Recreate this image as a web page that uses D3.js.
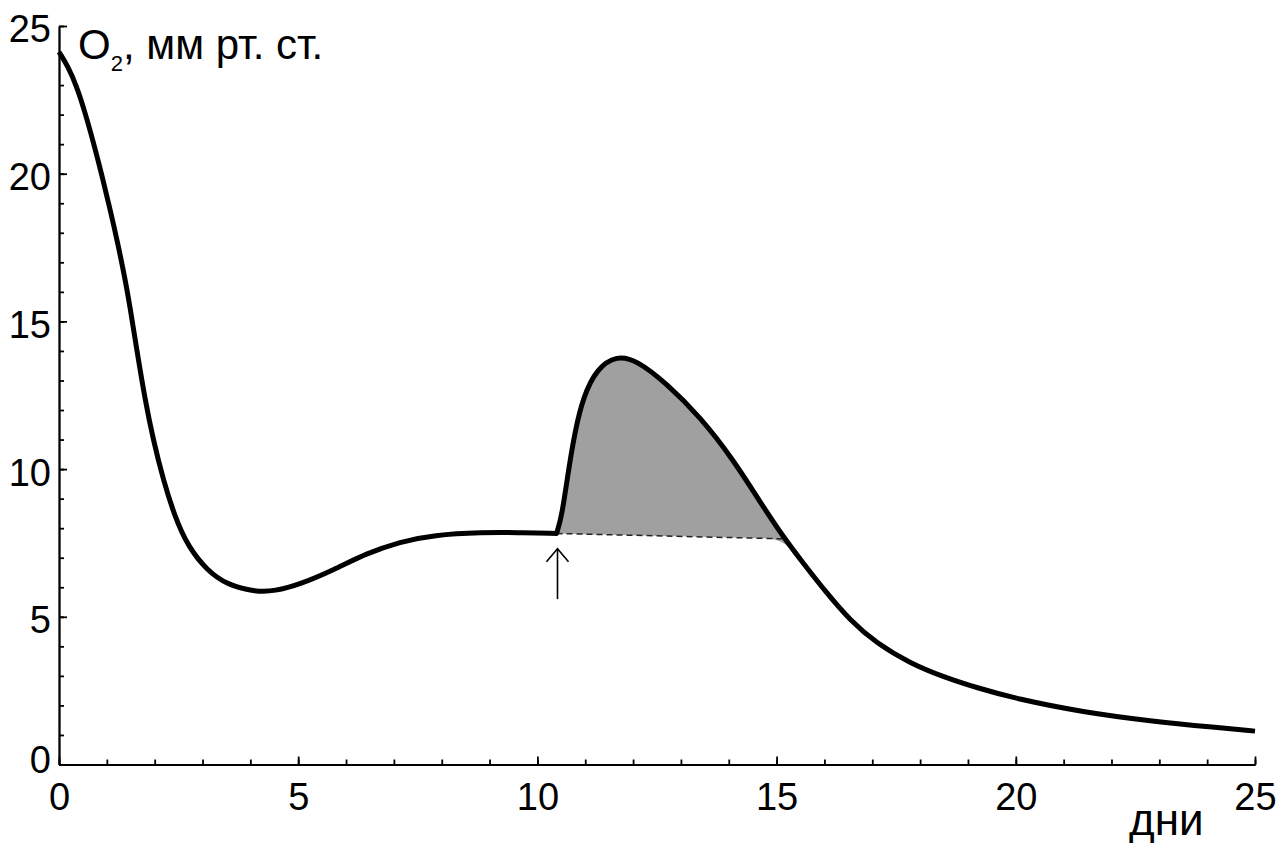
<html>
  <head>
    <title>O2</title>
    <meta charset="utf-8">
    <script src="https://d3js.org/d3.v7.min.js"></script>
    <style>
      body {
        margin: 0;
        background-color: #fff;
      }
      svg text {
        font-family: "Liberation Sans", Arial, sans-serif;
        fill: #000;
      }
    </style>
  </head>

  <body>
    <svg width="1279" height="843"></svg>

    <script>
      // values: day, O2 (mm Hg)
      var days = [0, 0.19, 0.37, 0.54, 0.72, 0.89, 1.07, 1.24, 1.38, 1.48, 1.62, 1.8, 1.97, 2.18,
        2.42, 2.7, 3.09, 3.51, 4.13, 4.5, 5.04, 5.73, 6.43, 7.13, 7.82, 8.87, 9.57, 10.4,
        10.51, 10.65, 10.79, 10.96, 11.24, 11.66, 12.08, 12.7, 13.4, 14.1, 14.65, 15.14,
        15.56, 16.05, 16.53, 17.09, 17.79, 18.48, 19.18, 20.02, 21.41, 22.81, 24.2, 25];
      var o2 = [24.12, 23.63, 22.95, 22.1, 21.06, 19.99, 18.78, 17.56, 16.44, 15.54, 14.1, 12.34, 10.99, 9.63,
        8.39, 7.37, 6.58, 6.08, 5.84, 5.87, 6.1, 6.58, 7.15, 7.54, 7.77, 7.86, 7.85, 7.82,
        8.39, 9.97, 11.32, 12.45, 13.4, 13.85, 13.68, 12.9, 11.77, 10.31, 8.9, 7.7,
        6.81, 5.8, 4.89, 4.1, 3.43, 2.97, 2.6, 2.22, 1.77, 1.47, 1.25, 1.13];

      // day of the intervention (kink in the curve)
      var kinkDay = 10.4;

      // shaded peak and its dashed baseline
      var peakDays = [10.4, 15.14];
      var peakBase = [7.82, 7.64];

      // arrow (day, from, to)
      var arrowDay = 10.42;
      var arrowFrom = 5.6;
      var arrowTo = 7.3;

      var xMajor = [0, 5, 10, 15, 20, 25];
      var yMajor = [0, 5, 10, 15, 20, 25];

      var svg = d3.select("svg");

      var x = d3.scaleLinear().domain([0, 25]).range([59, 1255]);
      var y = d3.scaleLinear().domain([0, 25]).range([764.5, 26]);

      var points = days.map(function(d, i){ return {day: d, v: o2[i]}; });
      var before = points.filter(function(p){ return p.day <= kinkDay; });
      var after = points.filter(function(p){ return p.day >= kinkDay; });

      var line = d3.line()
        .x(function(p){ return x(p.day); })
        .y(function(p){ return y(p.v); })
        .curve(d3.curveBasis);

      // shaded area
      var baseAt = function(d){
        var t = (d - peakDays[0]) / (peakDays[1] - peakDays[0]);
        return peakBase[0] + t * (peakBase[1] - peakBase[0]);
      };
      var peakPts = points.filter(function(p){ return p.day >= peakDays[0] && p.day <= peakDays[1] + 0.5; });

      svg.append("path")
        .datum(peakPts)
        .attr("fill", "#a0a0a0")
        .attr("d", d3.area()
          .x(function(p){ return x(p.day); })
          .y0(function(p){ return y(Math.min(p.v, baseAt(p.day))); })
          .y1(function(p){ return y(p.v); })
          .curve(d3.curveBasis));

      svg.append("line")
        .attr("x1", x(peakDays[0])).attr("y1", y(peakBase[0]))
        .attr("x2", x(peakDays[1])).attr("y2", y(peakBase[1]))
        .attr("stroke", "#222")
        .attr("stroke-width", 1.5)
        .attr("stroke-dasharray", "6,4");

      // axes
      var minorX = d3.axisBottom(x).tickValues(d3.range(0, 26)).tickSize(-5).tickFormat("").tickSizeOuter(0);
      var minorY = d3.axisLeft(y).tickValues(d3.range(0, 26)).tickSize(-5).tickFormat("").tickSizeOuter(0);
      var majorX = d3.axisBottom(x).tickValues(xMajor).tickSize(-8).tickPadding(19).tickSizeOuter(0);
      var majorY = d3.axisLeft(y).tickValues(yMajor).tickSize(-8).tickPadding(8).tickSizeOuter(0);

      [minorX, majorX].forEach(function(ax){
        svg.append("g").attr("transform", "translate(0," + y(0) + ")").call(ax);
      });
      var yAxisG = [minorY, majorY].map(function(ax){
        return svg.append("g").attr("transform", "translate(" + x(0) + ",0)").call(ax);
      });

      svg.selectAll(".domain, .tick line")
        .attr("stroke", "#000")
        .attr("stroke-width", 1.8);
      svg.selectAll(".tick text")
        .attr("font-size", 38)
        .attr("font-family", "Liberation Sans, Arial, sans-serif")
        .attr("fill", "#000");
      // y labels sit a bit low, except the 0 next to the corner
      yAxisG[1].selectAll(".tick text")
        .attr("dy", function(d){ return d === 0 ? "0.22em" : "0.42em"; });

      // curve, in two smooth pieces joined at the kink
      svg.append("path")
        .attr("fill", "none")
        .attr("stroke", "#000")
        .attr("stroke-width", 5)
        .attr("stroke-linejoin", "round")
        .attr("d", line(before) + line(after).replace(/^M/, "L"));

      // arrow
      var ax0 = x(arrowDay), ay1 = y(arrowTo);
      svg.append("line")
        .attr("x1", ax0).attr("y1", y(arrowFrom))
        .attr("x2", ax0).attr("y2", ay1)
        .attr("stroke", "#000").attr("stroke-width", 1.6);
      svg.append("path")
        .attr("d", "M" + (ax0 - 11) + "," + (ay1 + 13) + "L" + ax0 + "," + ay1 + "L" + (ax0 + 11) + "," + (ay1 + 13))
        .attr("fill", "none").attr("stroke", "#000").attr("stroke-width", 1.6);

      // axis titles
      var yt = svg.append("text")
        .attr("x", 78).attr("y", 59)
        .attr("font-size", 42);
      yt.append("tspan").text("O");
      yt.append("tspan").attr("font-size", 22).attr("dy", 12).text("2");
      yt.append("tspan").attr("dy", -12).text(", мм рт. ст.");

      svg.append("text")
        .attr("x", 1129).attr("y", 835)
        .attr("font-size", 44)
        .text("дни");
    </script>
  </body>
</html>
